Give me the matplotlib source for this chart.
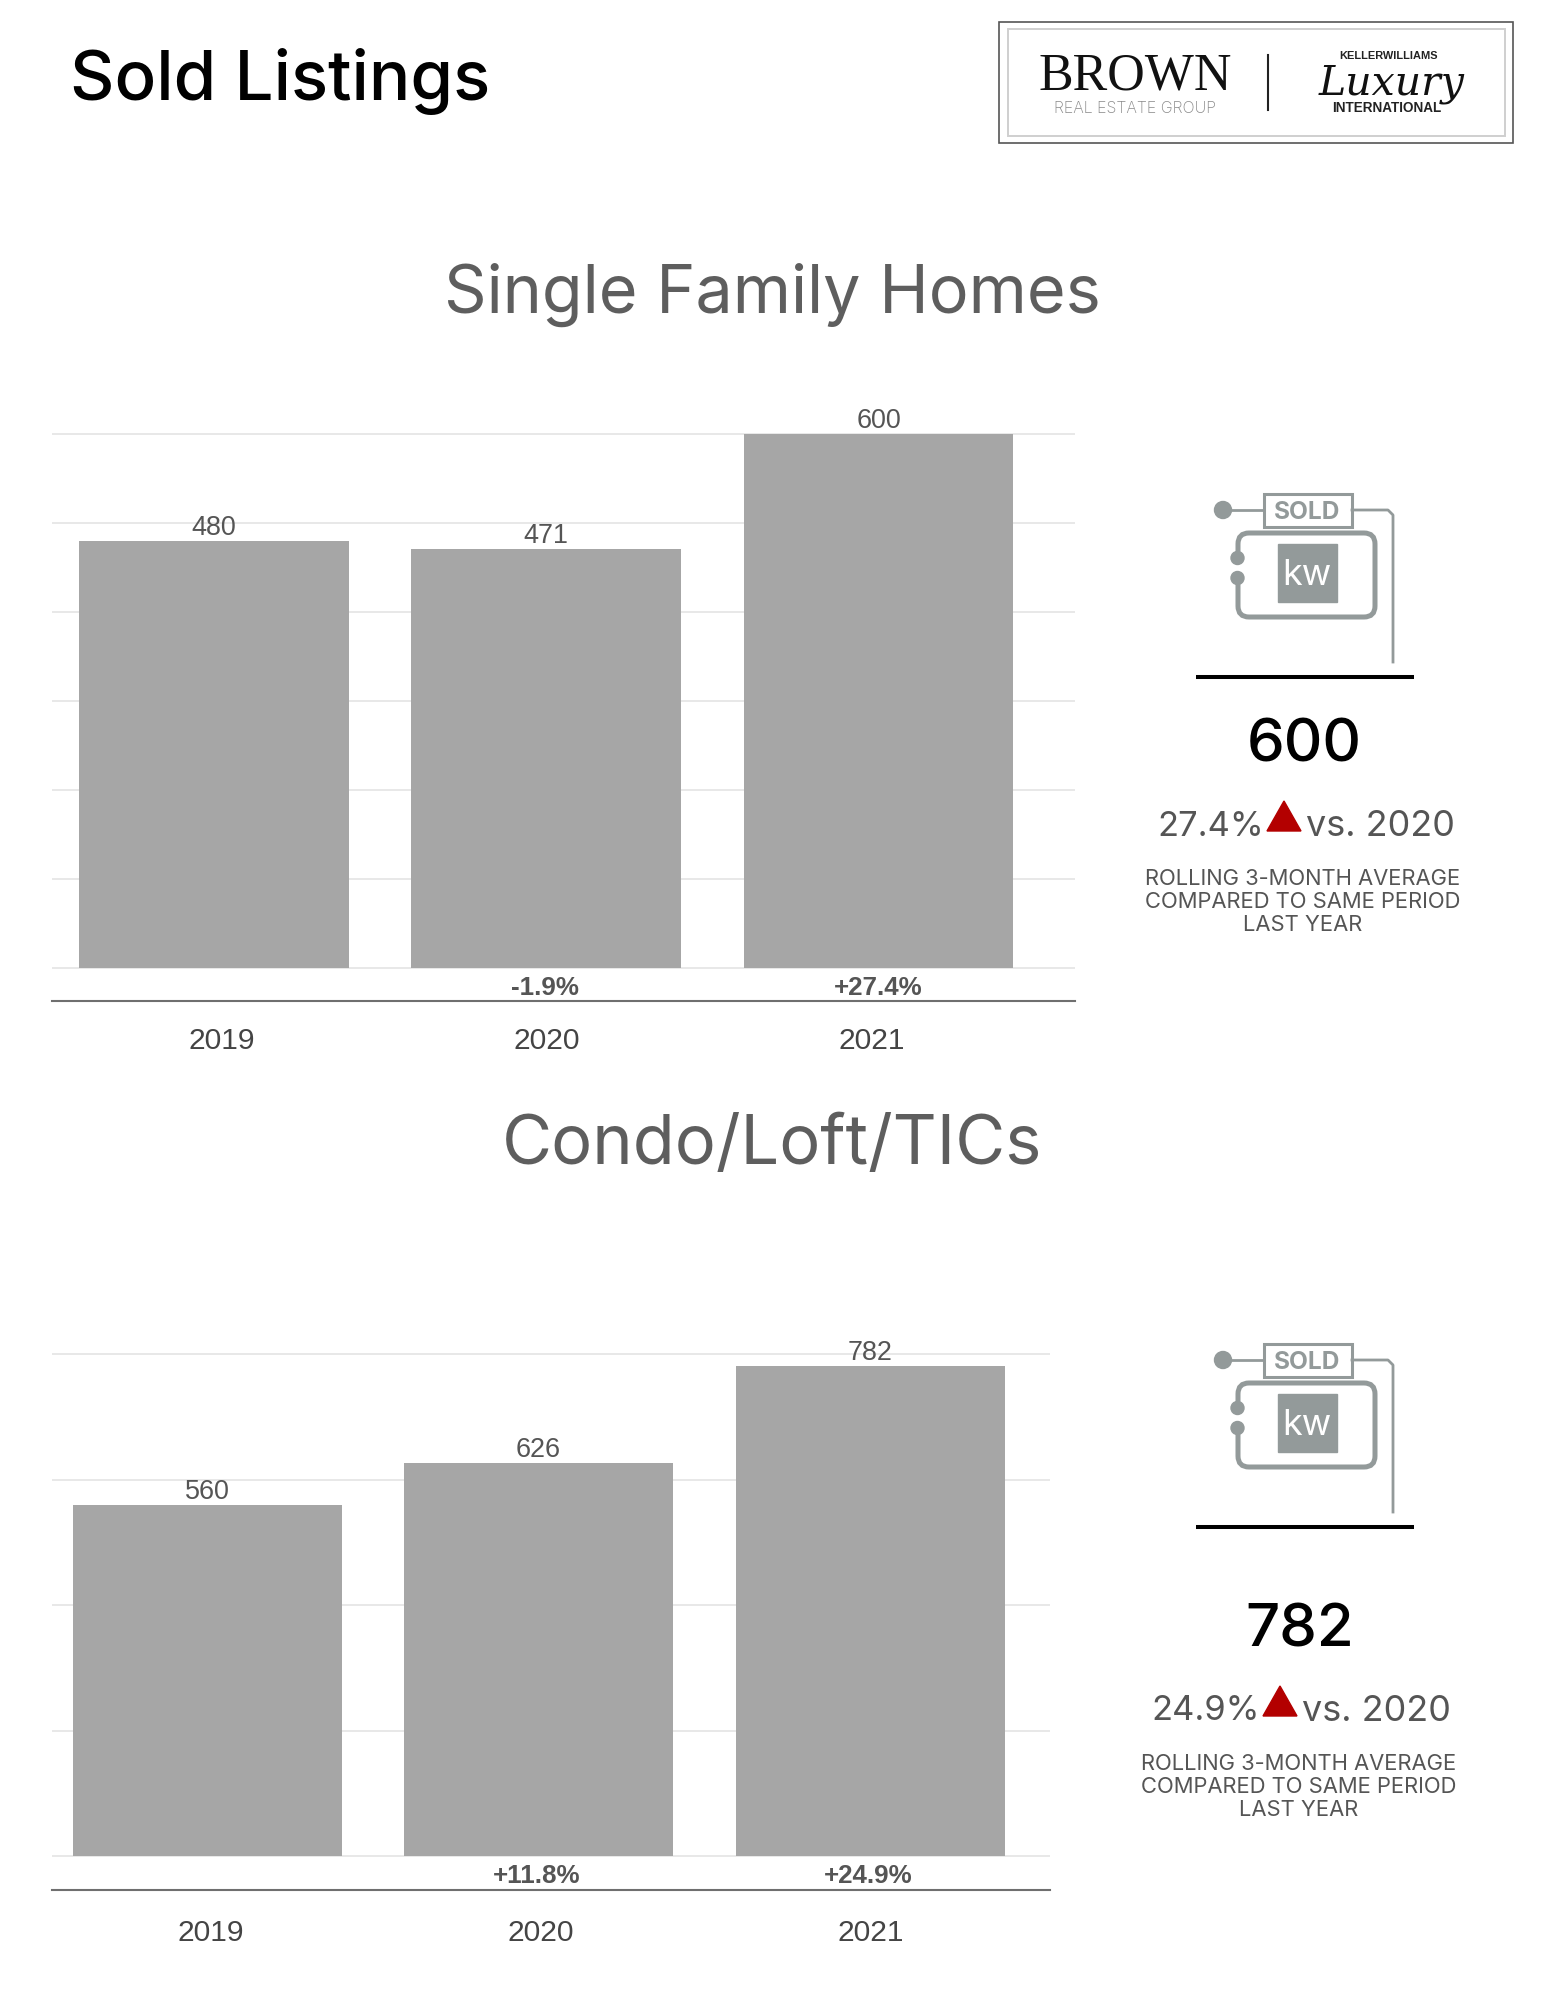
#!/usr/bin/python3
# Sold listings page: two yearly bar charts with a summary column on the right.
import matplotlib
matplotlib.use('Agg')
import matplotlib.pyplot as plt
from matplotlib.patches import Rectangle, Circle, FancyBboxPatch, Polygon

YEARS = ['2019', '2020', '2021']
SFH_VALUES = [480, 471, 600]
SFH_CHANGES = ['', '-1.9%', '+27.4%']
SFH_TICKS = [0, 100, 200, 300, 400, 500, 600]
CONDO_VALUES = [560, 626, 782]
CONDO_CHANGES = ['', '+11.8%', '+24.9%']
CONDO_TICKS = [0, 200, 400, 600, 800]

W, H = 1545, 2000
BAR_COL = '#a6a6a6'
ICON_COL = '#939a9a'
TXT_COL = '#555555'
HEAD_FONT = 'Inter'
NUM_FONT = 'Liberation Sans'


def px(size):
    # pixel size to points at dpi 100
    return size * 0.72


fig = plt.figure(figsize=(W / 100, H / 100), dpi=100, facecolor='white')

# overlay in pixel coordinates for everything which is not a chart
bg = fig.add_axes([0, 0, 1, 1])
bg.set_xlim(0, W)
bg.set_ylim(H, 0)
bg.axis('off')


def label(x, y, s, size, color=TXT_COL, family=HEAD_FONT, weight='normal', ha='center', **kw):
    return bg.text(x, y, s, fontsize=px(size), color=color, family=family, weight=weight,
                   ha=ha, va='center_baseline', **kw)


def bar_chart(values, changes, ticks, left, right, baseline_y, zero_y, units_px, centres, bar_w,
              tick_x, change_x, top_val, label_gap, tick_pad):
    # centres and bar width are in pixels, converted so that the bars stay in data units
    step = centres[1] - centres[0]
    ymin = -(baseline_y - zero_y) / units_px
    height = (top_val - ymin) * units_px
    ax = fig.add_axes([left / W, 1 - baseline_y / H, (right - left) / W, height / H])
    ax.patch.set_alpha(0)
    ax.set_xlim((left - centres[0]) / step, (right - centres[0]) / step)
    ax.set_ylim(ymin, top_val)
    pos = list(range(len(values)))
    ax.bar(pos, values, width=bar_w / step, color=BAR_COL, zorder=3)
    for t in ticks:
        ax.axhline(t, color='#e2e2e2', lw=1.1, zorder=1)
    for s in ['top', 'left', 'right']:
        ax.spines[s].set_visible(False)
    ax.spines['bottom'].set_color('#6f6f6f')
    ax.spines['bottom'].set_linewidth(1.5)
    ax.set_yticks([])
    ax.set_xticks([(x - centres[0]) / step for x in tick_x])
    ax.set_xticklabels(YEARS, fontsize=px(30), color='#444444', family=NUM_FONT)
    ax.tick_params(axis='x', length=0, pad=tick_pad)
    for i, v in enumerate(values):
        ax.annotate(str(v), (i, v), xytext=(0, label_gap), textcoords='offset pixels',
                    ha='center', va='bottom', fontsize=px(27), color=TXT_COL, family=NUM_FONT)
        if changes[i]:
            ax.annotate(changes[i], ((change_x[i] - centres[0]) / step, 0), xytext=(0, -20),
                        textcoords='offset pixels', ha='center', va='center',
                        fontsize=px(26), color=TXT_COL, family=NUM_FONT, weight='bold')
    return ax


bar_chart(SFH_VALUES, SFH_CHANGES, SFH_TICKS, 52, 1075, 1001, 968, 0.89, [213.5, 546, 879.5], 270,
          [222, 547, 872], [0, 545, 878], 620, 0, 19)
bar_chart(CONDO_VALUES, CONDO_CHANGES, CONDO_TICKS, 52, 1050, 1890, 1856, 0.627, [207, 538.5, 868.5], 269,
          [210.5, 541, 871], [0, 537, 868], 820, 0, 21)

# headings
label(70, 74, 'Sold Listings', 69, color='black', weight='medium', ha='left')
label(772, 288, 'Single Family Homes', 66.5, color='#5e5e5e')
label(772, 1139, 'Condo/Loft/TICs', 68.5, color='#5e5e5e')

# logo box
bg.add_patch(Rectangle((999, 22), 514, 121, fill=False, ec='#555555', lw=1.2))
bg.add_patch(Rectangle((1008, 29), 497, 107, fill=False, ec='#cfcfcf', lw=1.4))
label(1135, 71, 'BROWN', 52, color='#111111', family='Liberation Serif')
label(1135, 107, 'REAL ESTATE GROUP', 16, color='#888888', weight='light')
bg.plot([1268, 1268], [55, 110], color='#222222', lw=1.5)
label(1389, 55, 'KELLERWILLIAMS', 11, color='#222222', family='Liberation Sans', weight='bold')
label(1392, 79, 'Luxury', 41, color='#111111', family='DejaVu Serif', style='italic')
label(1387, 107, 'INTERNATIONAL', 13.5, color='#222222', family='Liberation Sans', weight='bold')


def sold_icon(dy):
    bg.add_patch(Circle((1223, 510 + dy), 8.5, color=ICON_COL))
    bg.plot([1223, 1263], [510 + dy, 510 + dy], color=ICON_COL, lw=2)
    bg.add_patch(Rectangle((1264, 494 + dy), 88, 33, fc='white', ec=ICON_COL, lw=2.2))
    label(1307, 510 + dy, 'SOLD', 24.5, color=ICON_COL, weight='bold')
    bg.plot([1352, 1388, 1393, 1393], [510 + dy, 510 + dy, 515 + dy, 662 + dy], color=ICON_COL, lw=2)
    bg.add_patch(FancyBboxPatch((1238, 533 + dy), 137, 84, boxstyle='round,pad=0,rounding_size=11',
                                fill=False, ec=ICON_COL, lw=3.6, zorder=2))
    # gap in the left edge, with the two hinge dots
    bg.add_patch(Rectangle((1232, 558 + dy), 11, 20, fc='white', ec='none', zorder=3))
    bg.add_patch(Circle((1237.5, 558 + dy), 6.5, color=ICON_COL, zorder=4))
    bg.add_patch(Circle((1237.5, 578 + dy), 6.5, color=ICON_COL, zorder=4))
    bg.add_patch(Rectangle((1278, 544 + dy), 59, 58, color=ICON_COL, zorder=4))
    label(1307, 572 + dy, 'kw', 36, color='white', zorder=5)
    bg.plot([1196, 1414], [677 + dy, 677 + dy], color='black', lw=2.9, solid_capstyle='butt')


def summary(dx, dy, total, pct):
    label(1304 + dx, 740 + dy, total, 60, color='black', weight='medium')
    label(1264 + dx, 823 + dy, pct, 34.5, color=TXT_COL, ha='right')
    bg.add_patch(Polygon([(1267 + dx, 831 + dy), (1301 + dx, 831 + dy), (1284 + dx, 801 + dy)],
                         closed=True, color='#b30000'))
    label(1306 + dx, 823 + dy, 'vs. 2020', 36, color=TXT_COL, ha='left')
    for k, line in enumerate(['ROLLING 3-MONTH AVERAGE', 'COMPARED TO SAME PERIOD', 'LAST YEAR']):
        label(1303 + dx, 877 + 23 * k + dy, line, 22, color=TXT_COL)


sold_icon(0)
summary(0, 0, '600', '27.4%')
sold_icon(850)
summary(-4, 885, '782', '24.9%')

fig.savefig('out.png', dpi=100)
